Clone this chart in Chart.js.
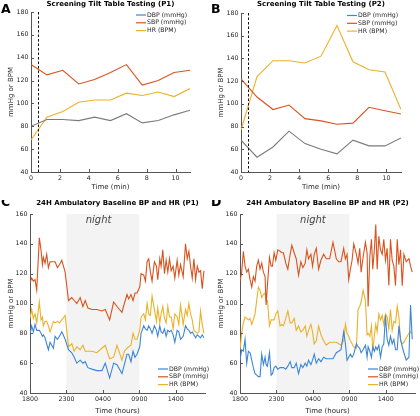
<!DOCTYPE html>
<html>
<head>
<meta charset="utf-8">
<script src="https://cdn.jsdelivr.net/npm/chart.js@4.4.1/dist/chart.umd.min.js"></script>
<style>
  body { margin: 0; background: #fff; }
  #wrap { position: relative; width: 420px; height: 416px; overflow: hidden; }
  canvas { position: absolute; }
</style>
</head>
<body>
<div id="wrap">
  <canvas id="pA" width="210" height="200" style="left:0;top:0"></canvas>
  <canvas id="pB" width="210" height="200" style="left:210px;top:0"></canvas>
  <canvas id="pC" width="210" height="216" style="left:0;top:200px"></canvas>
  <canvas id="pD" width="210" height="216" style="left:210px;top:200px"></canvas>
</div>
<script>
// --- tilt table testing (minutes) ---
const tiltMinutes = [0, 1.1, 2.2, 3.3, 4.4, 5.5, 6.6, 7.7, 8.8, 9.9, 11];
const tiltDbpP1 = [80, 86, 86, 85, 88, 85, 91, 83, 85, 90, 94];
const tiltSbpP1 = [134, 125, 129, 117, 121, 127, 134, 116, 120, 127, 129];
const tiltHrP1 = [68, 88, 93, 101, 103, 103, 109, 107, 110, 106, 113];
const tiltDbpP2 = [68, 53, 62, 76, 65, 60, 56, 68, 63, 63, 70];
const tiltSbpP2 = [122, 106, 95, 99, 87, 85, 82, 83, 97, 94, 91];
const tiltHrP2 = [77, 124, 138, 138, 136, 142, 169, 137, 130, 128, 95];
const tiltStart = 0.5;

// --- 24h ambulatory (hours after 1800) ---
const hourTicks = [0, 5, 10, 15, 20];
const hourTickLabels = ["1800", "2300", "0400", "0900", "1400"];
const nightSpan = [5, 15];

const hoursP1 = [0.00,0.23,0.46,0.69,0.92,1.28,1.51,1.70,1.83,2.06,2.29,2.52,2.75,3.21,3.44,3.76,4.04,4.36,4.82,5.28,
  5.73,6.06,6.42,6.88,7.25,7.57,7.94,8.49,9.17,9.86,10.32,10.92,11.47,11.93,12.61,12.94,13.30,13.53,13.85,14.13,
  14.40,14.68,15.05,15.23,15.60,15.83,16.06,16.28,16.51,16.74,17.06,17.34,17.52,17.80,17.98,18.21,18.44,18.67,18.90,19.13,
  19.36,19.63,19.86,20.18,20.41,20.64,21.01,21.33,21.56,21.79,22.02,22.25,22.48,22.71,22.94,23.17,23.39,23.62,23.85];
const dbpP1 = [79,85,81,86,82, 82,80,78,79,77, 73,69,74,70,78, 76,78,81,76,69,
  67,64,60,62,60, 61,57,56,55,55, 60,50,60,59,53, 59,66,66,61,68,
  64,66,71,80,85, 83,82,85,83,80, 85,82,78,85,81, 80,83,78,82,81,
  82,79,74,82,81, 76,78,85,83,82, 80,81,79,77,79, 78,77,79,77];
const sbpP1 = [114,117,115,116,109, 144,136,126,131,127, 133,124,128,128,128, 124,126,129,121,102,
  104,102,100,104,98, 102,97,96,96,95, 96,89,101,98,94, 100,106,103,106,102,
  107,107,111,120,119, 115,128,130,121,115, 128,125,116,130,125, 136,120,129,121,130,
  122,125,117,129,119, 126,118,140,130,135, 125,117,130,116,125, 121,122,110,122];
const hrP1 = [90,96,90,93,87, 101,89,91,85,88, 88,85,81,88,87, 88,87,89,92,71,
  73,68,71,69,72, 68,68,68,67,70, 72,63,64,72,62, 68,70,71,72,80,
  76,76,82,91,93, 89,100,93,92,105, 96,88,97,87,93, 98,90,87,98,91,
  91,83,93,91,86, 99,86,96,92,100, 93,89,82,81,80, 81,95,86,80];

const hoursP2 = [0.00,0.23,0.46,0.69,0.92,1.15,1.38,1.61,1.83,2.06,2.29,2.52,2.75,2.98,3.21,3.44,3.58,3.76,4.04,4.27,
  4.45,4.68,4.91,5.18,5.50,5.73,5.96,6.28,6.56,6.88,7.11,7.43,7.71,8.03,8.35,8.62,8.94,9.17,9.40,9.72,
  9.95,10.18,10.46,10.78,11.10,11.47,11.83,12.29,12.75,13.21,13.53,13.85,14.22,14.45,14.68,14.91,15.14,15.37,15.60,15.96,
  16.19,16.42,16.61,16.88,17.20,17.43,17.57,17.80,18.03,18.21,18.44,18.62,18.81,19.04,19.27,19.50,19.72,19.95,20.18,20.41,
  20.64,20.87,21.10,21.33,21.56,21.79,22.02,22.25,22.48,22.80,23.17,23.39,23.62];
const dbpP2 = [62,69,68,76,60, 68,67,62,57,53, 52,51,51,66,59, 64,59,58,67,52,
  53,57,58,56,57, 57,57,56,58,61, 57,57,60,53,59, 57,60,58,62,59,
  62,66,60,63,61, 64,63,63,63,67, 68,69,81,73,62, 64,66,64,66,73,
  71,70,67,69,72, 64,71,68,64,71, 68,71,69,72,64, 71,73,92,76,72,
  78,73,76,69,69, 85,76,71,67,62, 64,99,76];
const sbpP2 = [115,121,135,125,121, 123,116,111,118,115, 125,129,123,127,121, 118,99,112,131,125,
  125,134,129,136,135, 134,134,127,123,133, 139,134,130,119,128, 124,127,136,130,133,
  125,133,137,123,129, 133,130,130,141,130, 128,128,137,130,133, 116,123,129,140,133,
  127,137,121,131,141, 134,98,131,143,123, 137,153,123,145,136, 133,143,129,137,112,
  143,129,125,112,143, 126,136,112,133,128, 130,125,121];
const hrP2 = [69,80,87,91,90, 89,90,86,89,93, 102,111,109,104,106, 107,102,102,85,89,
  89,89,93,95,85, 86,85,90,95,87, 87,90,82,85,81, 82,85,78,82,86,
  81,73,75,85,79, 75,72,74,74,74, 73,72,75,86,80, 78,75,73,71,70,
  96,98,101,109,102, 79,80,78,85,68, 79,86,81,93,89, 92,86,93,91,83,
  96,82,88,87,98, 91,75,73,74,77, 80,81,80];

const seriesNames = ["DBP (mmHg)", "SBP (mmHg)", "HR (BPM)"];
const blue = "#3d86d6", red = "#d9531e", yellow = "#ebb12a", grey = "#7b7b7b";
const axisColor = "#555";
const textColor = "#262626";

const pts = (xs, ys) => ys.map((y, i) => ({ x: xs[i], y }));

const panelDecor = {
    id: "panelDecor",
    beforeDatasetsDraw(chart, args, o) {
        if (!o.night) return;
        const { ctx, chartArea: a, scales: { x } } = chart;
        const x0 = x.getPixelForValue(o.night[0]);
        const x1 = x.getPixelForValue(o.night[1]);
        ctx.save();
        ctx.fillStyle = "#f3f3f3";
        ctx.fillRect(x0, a.top, x1 - x0, a.bottom - a.top);
        ctx.fillStyle = "#444";
        ctx.font = 'italic 10px "DejaVu Sans"';
        ctx.textAlign = "center";
        ctx.textBaseline = "middle";
        ctx.fillText("night", x.getPixelForValue(o.nightLabelAt), a.top + 6);
        ctx.restore();
    },
    afterDatasetsDraw(chart, args, o) {
        if (o.marker == null) return;
        const { ctx, chartArea: a, scales: { x } } = chart;
        const px = Math.round(x.getPixelForValue(o.marker)) + 0.5;
        ctx.save();
        ctx.strokeStyle = "#111";
        ctx.lineWidth = 1;
        ctx.setLineDash([2.5, 2]);
        ctx.beginPath();
        ctx.moveTo(px, a.top);
        ctx.lineTo(px, a.bottom);
        ctx.stroke();
        ctx.restore();
    },
    afterDraw(chart, args, o) {
        const { ctx, chartArea: a, scales: { x, y } } = chart;
        ctx.save();
        // inward ticks
        ctx.strokeStyle = axisColor;
        ctx.lineWidth = 1;
        ctx.beginPath();
        y.ticks.forEach(t => {
            const py = Math.round(y.getPixelForValue(t.value)) + 0.5;
            ctx.moveTo(a.left, py);
            ctx.lineTo(a.left + 3, py);
        });
        x.ticks.forEach(t => {
            const px = Math.round(x.getPixelForValue(t.value)) + 0.5;
            ctx.moveTo(px, a.bottom);
            ctx.lineTo(px, a.bottom - 3);
        });
        ctx.stroke();

        // panel letter and title
        ctx.fillStyle = "#000";
        ctx.textBaseline = "middle";
        ctx.textAlign = "left";
        ctx.font = 'bold 12.5px "DejaVu Sans"';
        ctx.fillText(o.letter, 1, o.letterY);
        ctx.textAlign = "center";
        ctx.font = 'bold 7px "DejaVu Sans"';
        ctx.fillText(o.title, (a.left + a.right) / 2, o.titleY);

        // legend
        ctx.textAlign = "left";
        ctx.font = '6.2px "DejaVu Sans"';
        o.legend.colors.forEach((c, i) => {
            const ly = o.legend.y + i * 7.8;
            ctx.strokeStyle = c;
            ctx.lineWidth = 1.2;
            ctx.beginPath();
            ctx.moveTo(o.legend.x, ly);
            ctx.lineTo(o.legend.x + 10, ly);
            ctx.stroke();
            ctx.fillStyle = textColor;
            ctx.fillText(seriesNames[i], o.legend.x + 11, ly);
        });
        ctx.restore();
    }
};

function makePanel(id, p) {
    const canvas = document.getElementById(id);
    const W = canvas.width, H = canvas.height;
    const tickFont = { family: "DejaVu Sans", size: 6.3 };
    const titleFont = { family: "DejaVu Sans", size: 7 };
    return new Chart(canvas, {
        type: "line",
        data: {
            datasets: p.series.map((s, i) => ({
                label: seriesNames[i],
                data: pts(p.xs, s),
                borderColor: p.lineColors[i],
                borderWidth: 1.1,
                pointRadius: 0,
                tension: 0,
                fill: false
            }))
        },
        options: {
            responsive: false,
            animation: false,
            devicePixelRatio: 1,
            layout: { padding: { left: 0, top: p.area.top, right: W - p.area.right, bottom: 0 } },
            scales: {
                x: {
                    type: "linear",
                    min: p.xMin,
                    max: p.xMax,
                    afterFit: s => { s.height = H - p.area.bottom; },
                    afterBuildTicks: s => { s.ticks = p.xTicks.map(v => ({ value: v })); },
                    grid: { display: false, drawTicks: false, tickLength: 0 },
                    border: { display: true, color: axisColor, width: 1 },
                    ticks: {
                        font: tickFont, color: textColor, padding: 3, maxRotation: 0, autoSkip: false,
                        callback: (v, i) => p.xTickLabels[i]
                    },
                    title: { display: true, text: p.xTitle, font: titleFont, color: textColor, padding: { top: 0, bottom: p.xTitlePad } }
                },
                y: {
                    min: 40,
                    max: p.yMax,
                    afterFit: s => { s.width = p.area.left; },
                    grid: { display: false, drawTicks: false, tickLength: 0 },
                    border: { display: true, color: axisColor, width: 1 },
                    ticks: { stepSize: 20, font: tickFont, color: textColor, padding: 2.5 },
                    title: { display: true, text: "mmHg or BPM", font: titleFont, color: textColor, padding: { top: 7, bottom: 0 } }
                }
            },
            plugins: {
                legend: { display: false },
                tooltip: { enabled: false },
                panelDecor: p.decor
            }
        },
        plugins: [panelDecor]
    });
}

const minuteTicks = [0, 2, 4, 6, 8, 10];

makePanel("pA", {
    xs: tiltMinutes, series: [tiltDbpP1, tiltSbpP1, tiltHrP1], lineColors: [grey, red, yellow],
    xMin: 0, xMax: 11, xTicks: minuteTicks, xTickLabels: minuteTicks.map(String),
    yMax: 180, xTitle: "Time (min)", xTitlePad: 9,
    area: { left: 31, top: 12, right: 190, bottom: 172 },
    decor: { letter: "A", letterY: 10, title: "Screening Tilt Table Testing (P1)", titleY: 4,
             marker: tiltStart, legend: { x: 136, y: 15, colors: [blue, red, yellow] } }
});

makePanel("pB", {
    xs: tiltMinutes, series: [tiltDbpP2, tiltSbpP2, tiltHrP2], lineColors: [grey, red, yellow],
    xMin: 0, xMax: 11, xTicks: minuteTicks, xTickLabels: minuteTicks.map(String),
    yMax: 180, xTitle: "Time (min)", xTitlePad: 9,
    area: { left: 31, top: 13, right: 191, bottom: 172 },
    decor: { letter: "B", letterY: 10, title: "Screening Tilt Table Testing (P2)", titleY: 4,
             marker: tiltStart, legend: { x: 137, y: 15.5, colors: [blue, red, yellow] } }
});

makePanel("pC", {
    xs: hoursP1, series: [dbpP1, sbpP1, hrP1], lineColors: [blue, red, yellow],
    xMin: 0, xMax: 24, xTicks: hourTicks, xTickLabels: hourTickLabels,
    yMax: 160, xTitle: "Time (hours)", xTitlePad: 1,
    area: { left: 30, top: 14, right: 205, bottom: 193 },
    decor: { letter: "C", letterY: 3, title: "24H Ambulatory Baseline BP and HR (P1)", titleY: 3.5,
             night: nightSpan, nightLabelAt: 9.4, legend: { x: 158, y: 169, colors: [blue, red, yellow] } }
});

makePanel("pD", {
    xs: hoursP2, series: [dbpP2, sbpP2, hrP2], lineColors: [blue, red, yellow],
    xMin: 0, xMax: 24, xTicks: hourTicks, xTickLabels: hourTickLabels,
    yMax: 160, xTitle: "Time (hours)", xTitlePad: 1,
    area: { left: 30, top: 14, right: 205, bottom: 193 },
    decor: { letter: "D", letterY: 3, title: "24H Ambulatory Baseline BP and HR (P2)", titleY: 3.5,
             night: nightSpan, nightLabelAt: 10, legend: { x: 158, y: 169, colors: [blue, red, yellow] } }
});
</script>
</body>
</html>
